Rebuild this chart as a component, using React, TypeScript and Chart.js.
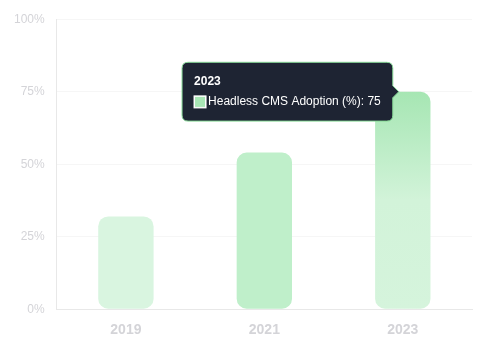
import React, { useEffect, useRef } from "react";
import { Chart, registerables } from "chart.js";

Chart.register(...registerables);

const categories = ["2019", "2021", "2023"];
const adoption = [32, 54, 75];
const seriesLabel = "Headless CMS Adoption (%)";
const yTicks = [0, 25, 50, 75, 100];

const FONT = 'Helvetica, Arial, "Liberation Sans", sans-serif';

export default function App() {
  const ref = useRef<HTMLCanvasElement | null>(null);

  useEffect(() => {
    document.body.style.margin = "0";
    const canvas = ref.current!;
    const chart = new Chart(canvas, {
      type: "bar",
      data: {
        labels: categories,
        datasets: [
          {
            label: seriesLabel,
            data: adoption,
            backgroundColor: (ctx: any) => {
              const i = ctx.dataIndex;
              if (i === 0) return "#d9f5e0";
              if (i === 1) return "#bfefca";
              const c = ctx.chart;
              const area = c.chartArea;
              if (!area) return "#bfefca";
              const y = c.scales.y;
              const top = y.getPixelForValue(adoption[i]);
              const bottom = y.getPixelForValue(0);
              const g = c.ctx.createLinearGradient(0, top, 0, bottom);
              g.addColorStop(0, "#a6e6b3");
              g.addColorStop(0.5, "#d2f3d9");
              g.addColorStop(1, "#d5f4dc");
              return g;
            },
            borderRadius: 10,
            borderSkipped: false,
            barPercentage: 0.5,
            categoryPercentage: 0.8,
          },
        ],
      },
      options: {
        animation: false,
        responsive: false,
        layout: { padding: { top: 5, right: 8, bottom: 0, left: 2 } },
        plugins: {
          legend: { display: false },
          tooltip: {
            enabled: true,
            backgroundColor: "#1e2433",
            borderColor: "#86d896",
            borderWidth: 1,
            cornerRadius: 6,
            padding: 12,
            caretSize: 6,
            caretPadding: 4,
            titleColor: "#ffffff",
            bodyColor: "#ffffff",
            titleFont: { family: FONT, size: 12, weight: "bold" },
            bodyFont: { family: FONT, size: 12 },
            titleMarginBottom: 6,
            boxWidth: 12,
            boxHeight: 12,
            xAlign: "right",
            yAlign: "center",
            callbacks: {
              labelColor: () => ({
                borderColor: "#ffffff",
                backgroundColor: "#a8e6b5",
                borderWidth: 1,
              }),
            },
          },
        },
        scales: {
          x: {
            grid: { display: false, drawTicks: false },
            border: { color: "#e8e8e8" },
            ticks: {
              color: "#d4d4d8",
              padding: 13,
              font: { family: FONT, size: 14, weight: "bold" },
            },
          },
          y: {
            min: 0,
            max: 100,
            afterBuildTicks: (axis: any) => {
              axis.ticks = yTicks.map((v) => ({ value: v }));
            },
            grid: { color: "#f6f6f6", drawTicks: false },
            border: { color: "#e8e8e8" },
            ticks: {
              color: "#d4d4d8",
              padding: 12,
              font: { family: FONT, size: 12 },
              callback: (v: any) => v + "%",
            },
          },
        },
      },
    } as any);

    const el = chart.getDatasetMeta(0).data[2];
    const pos = el.tooltipPosition(true);
    chart.tooltip!.setActiveElements([{ datasetIndex: 0, index: 2 }], { x: pos.x, y: pos.y as number });
    chart.update();

    return () => chart.destroy();
  }, []);

  return (
    <div style={{ width: 480, height: 352 }}>
      <canvas ref={ref} width={480} height={352} style={{ display: "block" }} />
    </div>
  );
}
